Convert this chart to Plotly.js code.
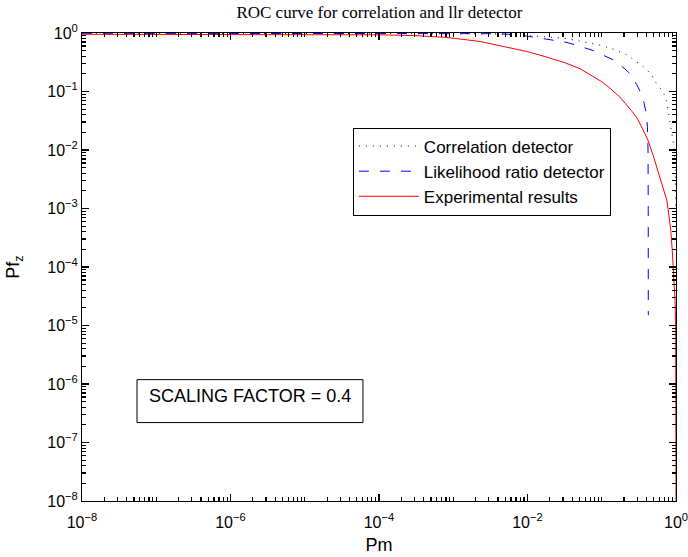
<!DOCTYPE html>
<html><head><meta charset="utf-8">
<script src="https://cdn.plot.ly/plotly-3.0.1.min.js"></script>
<style>html,body{margin:0;padding:0;background:#fff}#chart{width:688px;height:557px}</style>
</head><body><div id="chart"></div>
<script>
// Correlation detector (dotted black)
const pmCorr = [1e-8, 1e-5, 1e-4, 1e-3, 3e-3, 5.8e-3, 1.9e-2, 3.0e-2, 4.8e-2, 6.0e-2, 9.5e-2, 0.15, 0.23, 0.28, 0.34, 0.40, 0.47, 0.525, 0.60, 0.68, 0.75, 0.81, 0.85, 0.89, 0.91, 0.944, 0.962, 0.98, 0.995];
const pfCorr = [0.995, 0.995, 0.993, 0.985, 0.97, 0.95, 0.86, 0.82, 0.735, 0.69, 0.62, 0.52, 0.41, 0.335, 0.285, 0.24, 0.19, 0.147, 0.12, 0.096, 0.067, 0.036, 0.028, 0.020, 0.0146, 0.010, 0.0066, 0.0045, 0.001];
// Likelihood ratio detector (dashed blue)
const pmLlr = [1e-8, 1e-4, 1e-3, 2e-3, 4e-3, 5.6e-3, 7.9e-3, 1.6e-2, 3.4e-2, 7.4e-2, 0.1, 0.141, 0.2, 0.248, 0.295, 0.339, 0.372, 0.398, 0.412, 0.42, 0.4227, 0.4236];
const pfLlr = [0.99, 0.99, 0.988, 0.985, 0.973, 0.95, 0.92, 0.805, 0.69, 0.51, 0.43, 0.35, 0.25, 0.195, 0.132, 0.093, 0.063, 0.042, 0.025, 0.01, 0.001, 1.5e-5];
// Experimental results (solid red)
const pmExp = [1e-8, 1e-6, 1e-5, 1e-4, 2.9e-4, 8.2e-4, 2.3e-3, 6.4e-3, 1.0e-2, 1.83e-2, 3.2e-2, 5.1e-2, 0.1, 0.126, 0.176, 0.251, 0.3, 0.355, 0.42, 0.5, 0.6, 0.676, 0.75, 0.794, 0.85, 0.891, 0.92, 0.955, 0.97, 0.99, 0.998, 1];
const pfExp = [0.95, 0.944, 0.94, 0.93, 0.905, 0.84, 0.716, 0.55, 0.48, 0.386, 0.31, 0.245, 0.147, 0.117, 0.080, 0.047, 0.035, 0.023, 0.0146, 0.0076, 0.0037, 0.0022, 0.0014, 8.5e-4, 4.3e-4, 1.9e-4, 1e-4, 4.5e-5, 2.7e-5, 1e-5, 1e-6, 1e-8];

const seriesNames = ['Correlation detector', 'Likelihood ratio detector', 'Experimental results'];
const xTickVals = [1e-8, 1e-6, 1e-4, 1e-2, 1];
const xTickText = ['10<sup>\u22128</sup>', '10<sup>\u22126</sup>', '10<sup>\u22124</sup>', '10<sup>\u22122</sup>', '10<sup>0</sup>'];
const yTickVals = [1e-8, 1e-7, 1e-6, 1e-5, 1e-4, 1e-3, 1e-2, 1e-1, 1];
const yTickText = ['10<sup>\u22128</sup>', '10<sup>\u22127</sup>', '10<sup>\u22126</sup>', '10<sup>\u22125</sup>', '10<sup>\u22124</sup>', '10<sup>\u22123</sup>', '10<sup>\u22122</sup>', '10<sup>\u22121</sup>', '10<sup>0</sup>'];
const titleText = 'ROC curve for correlation and llr detector';
const xTitle = 'Pm';
const yTitle = 'Pf<sub>z</sub>';
const noteText = 'SCALING FACTOR = 0.4';

// minor tick positions: 2..9 in every decade (plus the unlabelled odd decades on x)
const xMinor = [], yMinor = [];
for (let e = -8; e < 0; e++) {
  for (let m = 1; m <= 9; m++) {
    const v = m * Math.pow(10, e);
    if (!(m === 1 && e % 2 === 0)) xMinor.push(v);
    if (m !== 1) yMinor.push(v);
  }
}

const sans = 'Liberation Sans, Arial, Helvetica, sans-serif';
const traces = [
  {x: pmCorr, y: pfCorr, name: seriesNames[0], mode: 'lines', line: {color: '#000', width: 1, dash: '1px,6px'}},
  {x: pmLlr, y: pfLlr, name: seriesNames[1], mode: 'lines', line: {color: '#0000ff', width: 1, dash: '10px,11px'}},
  {x: pmExp, y: pfExp, name: seriesNames[2], mode: 'lines', line: {color: '#ff0000', width: 1}}
];

const axisCommon = {
  type: 'log', range: [-8, 0], showgrid: false, zeroline: false, showline: true, linecolor: '#000', linewidth: 1,
  mirror: 'allticks', ticks: 'inside', ticklen: 7, tickwidth: 1.2, tickcolor: '#000',
  tickmode: 'array', tickfont: {family: sans, size: 16, color: '#000'}, ticklabeloverflow: 'allow'
};
const minorCommon = {
  type: 'log', range: [-8, 0], showgrid: false, zeroline: false, showline: false,
  mirror: 'allticks', ticks: 'inside', ticklen: 4, tickwidth: 1.2, tickcolor: '#000',
  tickmode: 'array', showticklabels: false
};

const layout = {
  width: 688, height: 557,
  margin: {l: 82, r: 12, t: 32.5, b: 56, pad: 0},
  paper_bgcolor: '#fff', plot_bgcolor: 'rgba(0,0,0,0)',
  title: {text: titleText, font: {family: 'Liberation Serif, Times New Roman, serif', size: 17, color: '#000'}, x: 0.5515, xanchor: 'center', y: 0.978, yanchor: 'middle'},
  xaxis: Object.assign({}, axisCommon, {tickvals: xTickVals, ticktext: xTickText, ticklabelstandoff: 7,
    title: {text: xTitle, font: {family: sans, size: 18, color: '#000'}, standoff: 8}}),
  yaxis: Object.assign({}, axisCommon, {tickvals: yTickVals, ticktext: yTickText,
    title: {text: yTitle, font: {family: sans, size: 18, color: '#000'}, standoff: 22}}),
  xaxis2: Object.assign({}, minorCommon, {overlaying: 'x', anchor: 'y', side: 'bottom', tickvals: xMinor}),
  yaxis2: Object.assign({}, minorCommon, {overlaying: 'y', anchor: 'x', side: 'left', tickvals: yMinor}),
  showlegend: true,
  legend: {x: 0.456, y: 0.798, xanchor: 'left', yanchor: 'top', bordercolor: '#000', borderwidth: 1,
    bgcolor: '#fff', font: {family: sans, size: 17, color: '#000'}, itemwidth: 60, tracegroupgap: 0},
  shapes: [{type: 'rect', xref: 'paper', yref: 'paper', x0: 0.0926, x1: 0.473, y0: 0.1676, y1: 0.2593,
    line: {color: '#000', width: 1}, fillcolor: '#fff', layer: 'above'}],
  annotations: [{text: noteText, xref: 'paper', yref: 'paper', x: 0.2828, y: 0.2241, xanchor: 'center', yanchor: 'middle',
    showarrow: false, font: {family: sans, size: 18, color: '#000'}}]
};

// invisible helper trace so the minor-tick overlay axes are drawn
traces.push({x: [1e-8, 1], y: [1e-8, 1], xaxis: 'x2', yaxis: 'y2', mode: 'lines', line: {width: 0, color: 'rgba(0,0,0,0)'}, showlegend: false, hoverinfo: 'skip'});

Plotly.newPlot('chart', traces, layout, {displayModeBar: false, staticPlot: true});
</script>
</body></html>
